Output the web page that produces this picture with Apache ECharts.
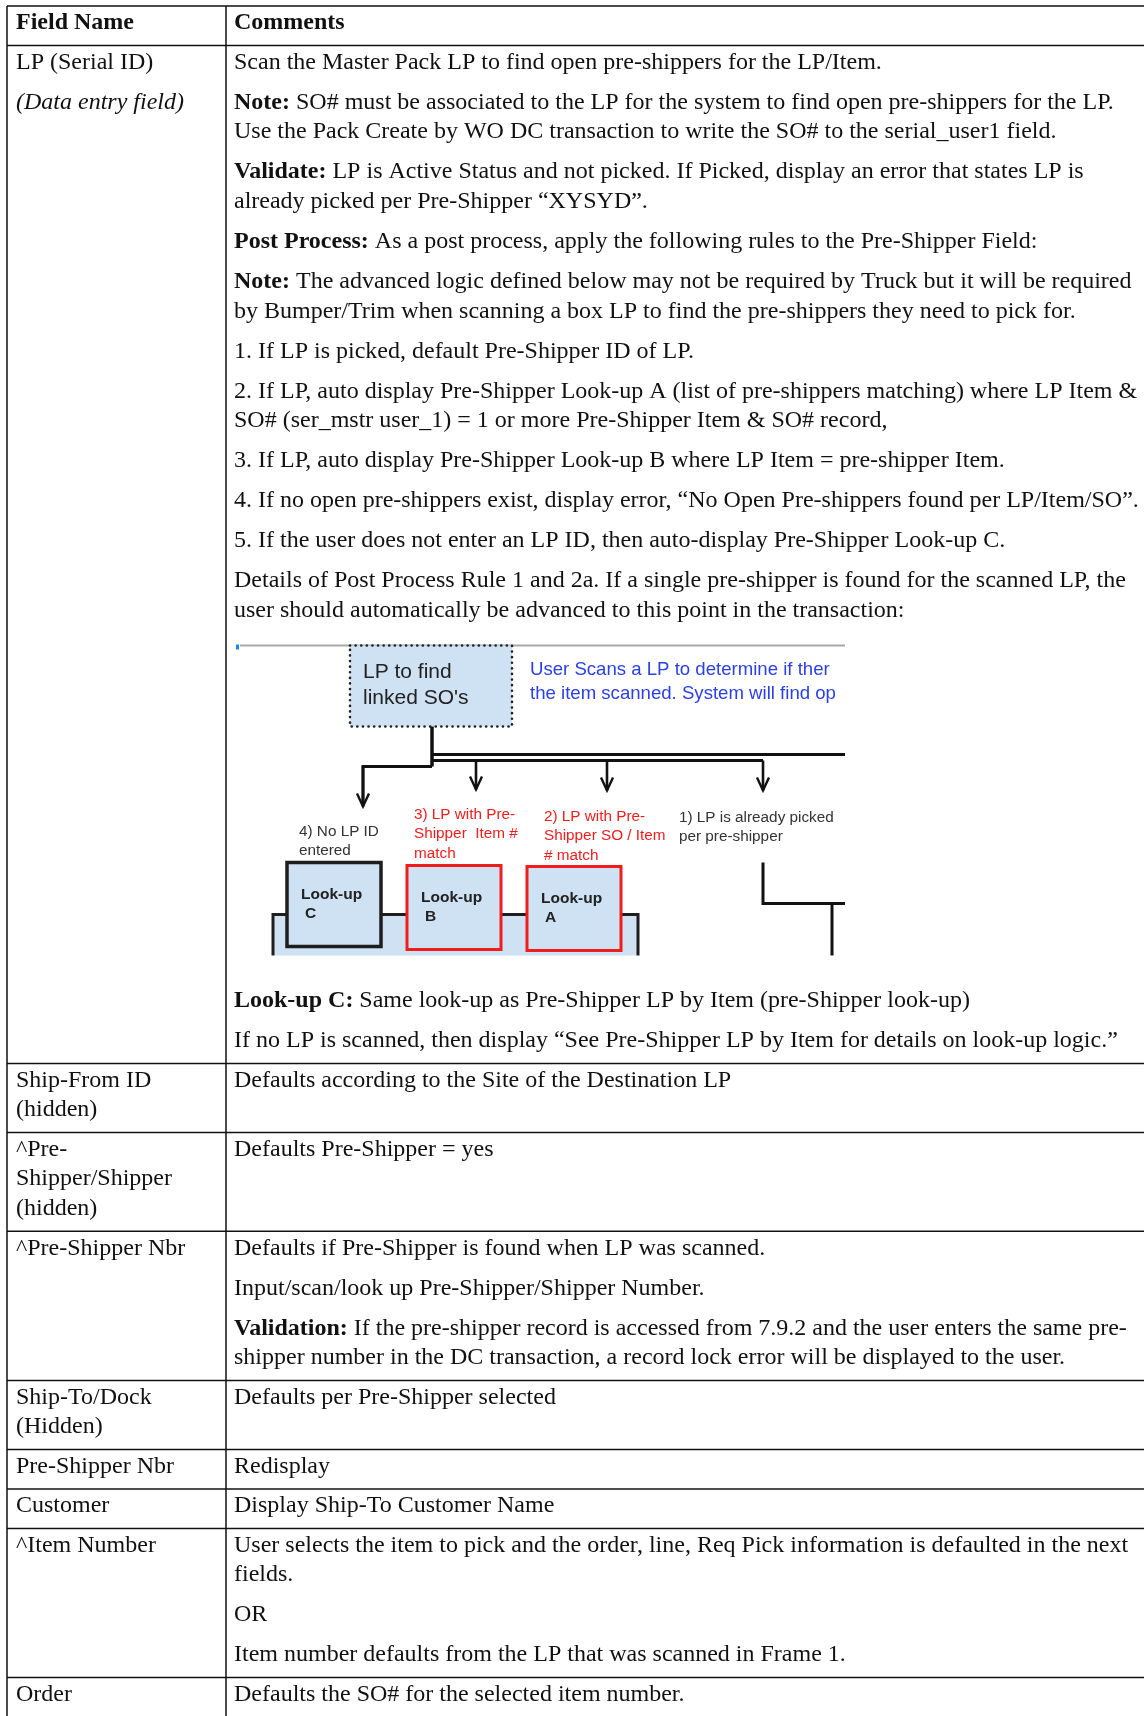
<!DOCTYPE html>
<html>
<head>
<meta charset="utf-8">
<script src="https://cdn.jsdelivr.net/npm/echarts@6/dist/echarts.min.js"></script>
<style>
html,body{margin:0;padding:0;background:#fff;}
#c{width:1144px;height:1716px;}
</style>
</head>
<body>
<div id="c"></div>
<script>
// ---------- DATA ----------
const headerLabels = ['Field Name', 'Comments'];

const DIAGRAM = 'DIAGRAM';

const fieldNames = [
  [['LP (Serial ID)'], ['{i|(Data entry field)}']],
  [['Ship-From ID', '(hidden)']],
  [['^Pre-', 'Shipper/Shipper', '(hidden)']],
  [['^Pre-Shipper Nbr']],
  [['Ship-To/Dock', '(Hidden)']],
  [['Pre-Shipper Nbr']],
  [['Customer']],
  [['^Item Number']],
  [['Order']]
];

const comments = [
  [
    ['Scan the Master Pack LP to find open pre-shippers for the LP/Item.'],
    ['{b|Note:} SO# must be associated to the LP for the system to find open pre-shippers for the LP.',
     'Use the Pack Create by WO DC transaction to write the SO# to the serial_user1 field.'],
    ['{b|Validate:} LP is Active Status and not picked. If Picked, display an error that states LP is',
     'already picked per Pre-Shipper “XYSYD”.'],
    ['{b|Post Process:} As a post process, apply the following rules to the Pre-Shipper Field:'],
    ['{b|Note:} The advanced logic defined below may not be required by Truck but it will be required',
     'by Bumper/Trim when scanning a box LP to find the pre-shippers they need to pick for.'],
    ['1. If LP is picked, default Pre-Shipper ID of LP.'],
    ['2. If LP, auto display Pre-Shipper Look-up A (list of pre-shippers matching) where LP Item &',
     'SO# (ser_mstr user_1) = 1 or more Pre-Shipper Item & SO# record,'],
    ['3. If LP, auto display Pre-Shipper Look-up B where LP Item = pre-shipper Item.'],
    ['4. If no open pre-shippers exist, display error, “No Open Pre-shippers found per LP/Item/SO”.'],
    ['5. If the user does not enter an LP ID, then auto-display Pre-Shipper Look-up C.'],
    ['Details of Post Process Rule 1 and 2a. If a single pre-shipper is found for the scanned LP, the',
     'user should automatically be advanced to this point in the transaction:'],
    DIAGRAM,
    ['{b|Look-up C:} Same look-up as Pre-Shipper LP by Item (pre-Shipper look-up)'],
    ['If no LP is scanned, then display “See Pre-Shipper LP by Item for details on look-up logic.”']
  ],
  [['Defaults according to the Site of the Destination LP']],
  [['Defaults Pre-Shipper = yes']],
  [['Defaults if Pre-Shipper is found when LP was scanned.'],
   ['Input/scan/look up Pre-Shipper/Shipper Number.'],
   ['{b|Validation:} If the pre-shipper record is accessed from 7.9.2 and the user enters the same pre-',
    'shipper number in the DC transaction, a record lock error will be displayed to the user.']],
  [['Defaults per Pre-Shipper selected']],
  [['Redisplay']],
  [['Display Ship-To Customer Name']],
  [['User selects the item to pick and the order, line, Req Pick information is defaulted in the next',
    'fields.'],
   ['OR'],
   ['Item number defaults from the LP that was scanned in Frame 1.']],
  [['Defaults the SO# for the selected item number.']]
];

// Diagram texts
const diagramStartText = ['LP to find', "linked SO's"];
const diagramNoteText = ['User Scans a LP to determine if ther', 'the item scanned. System will find op'];
const branchLabelNoLP = ['4) No LP ID', 'entered'];
const branchLabelItem = ['3) LP with Pre-', 'Shipper  Item #', 'match'];
const branchLabelSOItem = ['2) LP with Pre-', 'Shipper SO / Item', '# match'];
const branchLabelPicked = ['1) LP is already picked', 'per pre-shipper'];
const lookupNames = ['C', 'B', 'A'];

// ---------- LAYOUT ----------
const L = {
  left: 7, div: 226, right: 1144, top: 6,
  padTop: 17, padBottom: 22.5, line: 29.6, para: 40,
  textL: 16, textR: 234, font: 24,
  imgGapBefore: 34, imgH: 311, imgW: 611, imgGapAfter: 45.5
};
const SERIF = '"Liberation Serif","Times New Roman",serif';
const SANS = '"Liberation Sans",Arial,sans-serif';
const richSerif = {
  b: { fontWeight: 'bold', fontSize: L.font, fontFamily: SERIF, fill: '#111' },
  i: { fontStyle: 'italic', fontSize: L.font, fontFamily: SERIF, fill: '#111' }
};

const els = [];
els.push({ type: 'rect', shape: { x: 0, y: 0, width: 1144, height: 1716 }, style: { fill: '#fff' }, silent: true });

function txt(x, y, s, o) {
  o = o || {};
  els.push({
    type: 'text', x: x, y: y, silent: true, z: o.z || 10,
    style: {
      text: s, fontSize: o.size || L.font, fontFamily: o.family || SERIF,
      fontWeight: o.weight || 'normal', fontStyle: o.style || 'normal',
      fill: o.fill || '#111', align: o.align || 'left', verticalAlign: 'middle',
      rich: o.rich || richSerif
    }
  });
}
function line(x1, y1, x2, y2, o) {
  o = o || {};
  els.push({ type: 'line', silent: true, z: o.z || 5, shape: { x1: x1, y1: y1, x2: x2, y2: y2 },
    style: { stroke: o.stroke || '#111', lineWidth: o.w || 1.5, lineDash: o.dash || null, lineCap: o.cap || 'butt' } });
}
function poly(points, o) {
  o = o || {};
  els.push({ type: 'polyline', silent: true, z: o.z || 6, shape: { points: points },
    style: { stroke: o.stroke || '#111', lineWidth: o.w || 3, fill: null, lineJoin: 'miter' } });
}
function rect(x, y, w, h, o) {
  o = o || {};
  els.push({ type: 'rect', silent: true, z: o.z || 6, shape: { x: x, y: y, width: w, height: h },
    style: { fill: o.fill || null, stroke: o.stroke || null, lineWidth: o.w || 0, lineDash: o.dash || null, lineCap: o.cap || 'butt' } });
}

function drawDiagram(ox, oy) {
  const P = (x, y) => [ox + x, oy + y];
  const blue = '#cfe2f3', dark = '#1e1e1e', red = '#f21c1c';
  // frame top grey line + blue tick
  line(ox + 6, oy + 1, ox + L.imgW, oy + 1, { stroke: '#a8a8a8', w: 2 });
  rect(ox + 2, oy, 3, 5, { fill: '#1e88e5', z: 7 });
  // start box (dotted)
  rect(ox + 116, oy + 1, 162, 81, { fill: blue, stroke: '#222', w: 2.6, dash: [0.1, 5.5], cap: 'round' });
  txt(ox + 129, oy + 28, diagramStartText[0], { family: SANS, size: 21, fill: '#222' });
  txt(ox + 129, oy + 54, diagramStartText[1], { family: SANS, size: 21, fill: '#222' });
  // blue note
  txt(ox + 296, oy + 25, diagramNoteText[0], { family: SANS, size: 18.6, fill: '#2b3fe6' });
  txt(ox + 296, oy + 49, diagramNoteText[1], { family: SANS, size: 18.6, fill: '#2b3fe6' });
  // connectors
  poly([P(198, 82), P(198, 122)], { w: 3.5 });
  poly([P(198, 110), P(640, 110)], { w: 3 });
  poly([P(198, 116), P(529, 116)], { w: 3 });
  poly([P(198, 122), P(129, 122), P(129, 160)], { w: 3 });
  const arrow = (x, y0, tip) => {
    poly([P(x, y0), P(x, tip)], { w: 2.6 });
    poly([P(x - 6, tip - 13), P(x, tip), P(x + 6, tip - 13)], { w: 2.4 });
  };
  arrow(129, 122, 162);
  arrow(242, 116, 145);
  arrow(373, 116, 146);
  arrow(529, 116, 146);
  // branch labels
  const lab = (x, y0, arr, fill) => arr.forEach((s, i) =>
    txt(ox + x, oy + y0 + i * 19.5, s, { family: SANS, size: 15.3, fill: fill }));
  lab(65, 187, branchLabelNoLP, '#333');
  lab(180, 170, branchLabelItem, red);
  lab(310, 172, branchLabelSOItem, red);
  lab(445, 173, branchLabelPicked, '#333');
  // bottom container
  rect(ox + 39, oy + 270, 365, 60, { fill: blue, stroke: dark, w: 3 });
  // look-up boxes
  const boxes = [
    { x: 53, y: 218, stroke: dark, w: 3.5 },
    { x: 173, y: 221, stroke: red, w: 3 },
    { x: 293, y: 222, stroke: red, w: 3 }
  ];
  boxes.forEach((b, i) => {
    rect(ox + b.x, oy + b.y, 94, 84, { fill: blue, stroke: b.stroke, w: b.w, z: 7 });
    txt(ox + b.x + 14, oy + b.y + 32, 'Look-up', { family: SANS, size: 15.5, weight: 'bold', fill: '#222', z: 11 });
    txt(ox + b.x + 18, oy + b.y + 51, lookupNames[i], { family: SANS, size: 15.5, weight: 'bold', fill: '#222', z: 11 });
  });
  // right side connector
  poly([P(529, 218), P(529, 259), P(640, 259)], { w: 3 });
  poly([P(598, 259), P(598, 330)], { w: 3 });
  // clip right side and bottom (image boundary)
  rect(ox + L.imgW, oy - 2, 1144 - ox - L.imgW, L.imgH + 4, { fill: '#fff', z: 8 });
  rect(ox - 2, oy + L.imgH, L.imgW + 40, 30, { fill: '#fff', z: 8 });
}

function layoutCell(paras, x, rowTop) {
  let next = rowTop + L.padTop, last = rowTop + L.padTop;
  paras.forEach(p => {
    if (p === DIAGRAM) {
      const imgTop = last + L.imgGapBefore;
      drawDiagram(L.textR, imgTop);
      next = imgTop + L.imgH + L.imgGapAfter;
      return;
    }
    p.forEach((s, i) => {
      const c = next + i * L.line;
      txt(x, c, s);
      last = c;
    });
    next = last + L.para;
  });
  return last + L.padBottom - rowTop;
}

// header
let y = L.top;
txt(L.textL, y + L.padTop, headerLabels[0], { weight: 'bold' });
txt(L.textR, y + L.padTop, headerLabels[1], { weight: 'bold' });
const hLines = [y];
y += L.padTop + L.padBottom;
hLines.push(y);
fieldNames.forEach((f, r) => {
  const h1 = layoutCell(f, L.textL, y);
  const h2 = layoutCell(comments[r], L.textR, y);
  y += Math.max(h1, h2);
  if (r < fieldNames.length - 1) hLines.push(y);
});
hLines.forEach(hy => line(L.left, hy, L.right, hy, { z: 9 }));
line(L.left, L.top, L.left, 1716, { z: 9 });
line(L.div, L.top, L.div, 1716, { z: 9 });

const chart = echarts.init(document.getElementById('c'), null, { renderer: 'canvas' });
chart.setOption({ animation: false, graphic: { elements: els } });
</script>
</body>
</html>
